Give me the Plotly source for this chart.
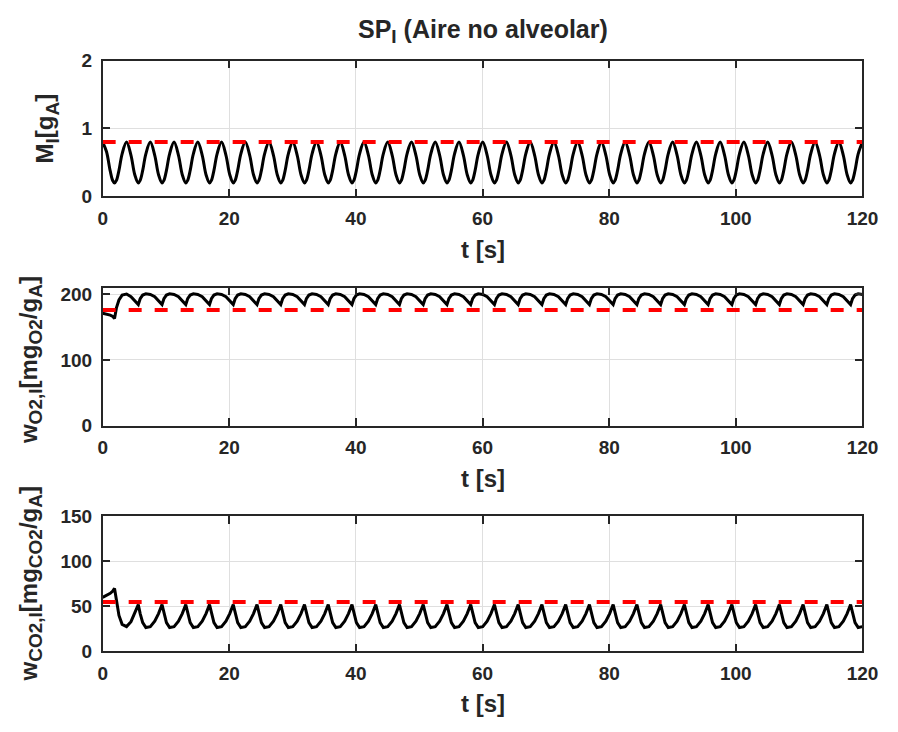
import plotly.graph_objects as go
from plotly.subplots import make_subplots

# ---- sample times [s] (one line per breath, starting at the end-of-expiration cusp)
t = [
    0.0, 0.6, 1.2, 1.6,
    1.875, 2.175, 2.575, 3.075, 3.775, 4.475, 5.075,
    5.625, 5.925, 6.325, 6.825, 7.525, 8.225, 8.825,
    9.375, 9.675, 10.075, 10.575, 11.275, 11.975, 12.575,
    13.125, 13.425, 13.825, 14.325, 15.025, 15.725, 16.325,
    16.875, 17.175, 17.575, 18.075, 18.775, 19.475, 20.075,
    20.625, 20.925, 21.325, 21.825, 22.525, 23.225, 23.825,
    24.375, 24.675, 25.075, 25.575, 26.275, 26.975, 27.575,
    28.125, 28.425, 28.825, 29.325, 30.025, 30.725, 31.325,
    31.875, 32.175, 32.575, 33.075, 33.775, 34.475, 35.075,
    35.625, 35.925, 36.325, 36.825, 37.525, 38.225, 38.825,
    39.375, 39.675, 40.075, 40.575, 41.275, 41.975, 42.575,
    43.125, 43.425, 43.825, 44.325, 45.025, 45.725, 46.325,
    46.875, 47.175, 47.575, 48.075, 48.775, 49.475, 50.075,
    50.625, 50.925, 51.325, 51.825, 52.525, 53.225, 53.825,
    54.375, 54.675, 55.075, 55.575, 56.275, 56.975, 57.575,
    58.125, 58.425, 58.825, 59.325, 60.025, 60.725, 61.325,
    61.875, 62.175, 62.575, 63.075, 63.775, 64.475, 65.075,
    65.625, 65.925, 66.325, 66.825, 67.525, 68.225, 68.825,
    69.375, 69.675, 70.075, 70.575, 71.275, 71.975, 72.575,
    73.125, 73.425, 73.825, 74.325, 75.025, 75.725, 76.325,
    76.875, 77.175, 77.575, 78.075, 78.775, 79.475, 80.075,
    80.625, 80.925, 81.325, 81.825, 82.525, 83.225, 83.825,
    84.375, 84.675, 85.075, 85.575, 86.275, 86.975, 87.575,
    88.125, 88.425, 88.825, 89.325, 90.025, 90.725, 91.325,
    91.875, 92.175, 92.575, 93.075, 93.775, 94.475, 95.075,
    95.625, 95.925, 96.325, 96.825, 97.525, 98.225, 98.825,
    99.375, 99.675, 100.075, 100.575, 101.275, 101.975, 102.575,
    103.125, 103.425, 103.825, 104.325, 105.025, 105.725, 106.325,
    106.875, 107.175, 107.575, 108.075, 108.775, 109.475, 110.075,
    110.625, 110.925, 111.325, 111.825, 112.525, 113.225, 113.825,
    114.375, 114.675, 115.075, 115.575, 116.275, 116.975, 117.575,
    118.125, 118.425, 118.825, 119.325, 120.0,
]

# ---- M_I [g_A]
M_I = [
    0.8, 0.661, 0.372, 0.232,
    0.2, 0.237, 0.384, 0.628, 0.8, 0.605, 0.32,
    0.2, 0.237, 0.384, 0.628, 0.8, 0.605, 0.32,
    0.2, 0.237, 0.384, 0.628, 0.8, 0.605, 0.32,
    0.2, 0.237, 0.384, 0.628, 0.8, 0.605, 0.32,
    0.2, 0.237, 0.384, 0.628, 0.8, 0.605, 0.32,
    0.2, 0.237, 0.384, 0.628, 0.8, 0.605, 0.32,
    0.2, 0.237, 0.384, 0.628, 0.8, 0.605, 0.32,
    0.2, 0.237, 0.384, 0.628, 0.8, 0.605, 0.32,
    0.2, 0.237, 0.384, 0.628, 0.8, 0.605, 0.32,
    0.2, 0.237, 0.384, 0.628, 0.8, 0.605, 0.32,
    0.2, 0.237, 0.384, 0.628, 0.8, 0.605, 0.32,
    0.2, 0.237, 0.384, 0.628, 0.8, 0.605, 0.32,
    0.2, 0.237, 0.384, 0.628, 0.8, 0.605, 0.32,
    0.2, 0.237, 0.384, 0.628, 0.8, 0.605, 0.32,
    0.2, 0.237, 0.384, 0.628, 0.8, 0.605, 0.32,
    0.2, 0.237, 0.384, 0.628, 0.8, 0.605, 0.32,
    0.2, 0.237, 0.384, 0.628, 0.8, 0.605, 0.32,
    0.2, 0.237, 0.384, 0.628, 0.8, 0.605, 0.32,
    0.2, 0.237, 0.384, 0.628, 0.8, 0.605, 0.32,
    0.2, 0.237, 0.384, 0.628, 0.8, 0.605, 0.32,
    0.2, 0.237, 0.384, 0.628, 0.8, 0.605, 0.32,
    0.2, 0.237, 0.384, 0.628, 0.8, 0.605, 0.32,
    0.2, 0.237, 0.384, 0.628, 0.8, 0.605, 0.32,
    0.2, 0.237, 0.384, 0.628, 0.8, 0.605, 0.32,
    0.2, 0.237, 0.384, 0.628, 0.8, 0.605, 0.32,
    0.2, 0.237, 0.384, 0.628, 0.8, 0.605, 0.32,
    0.2, 0.237, 0.384, 0.628, 0.8, 0.605, 0.32,
    0.2, 0.237, 0.384, 0.628, 0.8, 0.605, 0.32,
    0.2, 0.237, 0.384, 0.628, 0.8, 0.605, 0.32,
    0.2, 0.237, 0.384, 0.628, 0.8, 0.605, 0.32,
    0.2, 0.237, 0.384, 0.628, 0.8, 0.605, 0.32,
    0.2, 0.237, 0.384, 0.628, 0.8,
]

# ---- w_O2,I [mg_O2/g_A]
w_O2 = [
    171, 170, 168, 166,
    163, 179, 191, 198.5, 200, 196, 190.5,
    184, 193, 198.5, 200.5, 199.5, 196, 190.5,
    184, 193, 198.5, 200.5, 199.5, 196, 190.5,
    184, 193, 198.5, 200.5, 199.5, 196, 190.5,
    184, 193, 198.5, 200.5, 199.5, 196, 190.5,
    184, 193, 198.5, 200.5, 199.5, 196, 190.5,
    184, 193, 198.5, 200.5, 199.5, 196, 190.5,
    184, 193, 198.5, 200.5, 199.5, 196, 190.5,
    184, 193, 198.5, 200.5, 199.5, 196, 190.5,
    184, 193, 198.5, 200.5, 199.5, 196, 190.5,
    184, 193, 198.5, 200.5, 199.5, 196, 190.5,
    184, 193, 198.5, 200.5, 199.5, 196, 190.5,
    184, 193, 198.5, 200.5, 199.5, 196, 190.5,
    184, 193, 198.5, 200.5, 199.5, 196, 190.5,
    184, 193, 198.5, 200.5, 199.5, 196, 190.5,
    184, 193, 198.5, 200.5, 199.5, 196, 190.5,
    184, 193, 198.5, 200.5, 199.5, 196, 190.5,
    184, 193, 198.5, 200.5, 199.5, 196, 190.5,
    184, 193, 198.5, 200.5, 199.5, 196, 190.5,
    184, 193, 198.5, 200.5, 199.5, 196, 190.5,
    184, 193, 198.5, 200.5, 199.5, 196, 190.5,
    184, 193, 198.5, 200.5, 199.5, 196, 190.5,
    184, 193, 198.5, 200.5, 199.5, 196, 190.5,
    184, 193, 198.5, 200.5, 199.5, 196, 190.5,
    184, 193, 198.5, 200.5, 199.5, 196, 190.5,
    184, 193, 198.5, 200.5, 199.5, 196, 190.5,
    184, 193, 198.5, 200.5, 199.5, 196, 190.5,
    184, 193, 198.5, 200.5, 199.5, 196, 190.5,
    184, 193, 198.5, 200.5, 199.5, 196, 190.5,
    184, 193, 198.5, 200.5, 199.5, 196, 190.5,
    184, 193, 198.5, 200.5, 199.5, 196, 190.5,
    184, 193, 198.5, 200.5, 199.5, 196, 190.5,
    184, 193, 198.5, 200.5, 200,
]

# ---- w_CO2,I [mg_CO2/g_A]
w_CO2 = [
    60, 62, 64.5, 67,
    70, 57, 40, 30, 27.5, 33, 42,
    52, 42, 32, 26.5, 27.5, 33.5, 42,
    52, 42, 32, 26.5, 27.5, 33.5, 42,
    52, 42, 32, 26.5, 27.5, 33.5, 42,
    52, 42, 32, 26.5, 27.5, 33.5, 42,
    52, 42, 32, 26.5, 27.5, 33.5, 42,
    52, 42, 32, 26.5, 27.5, 33.5, 42,
    52, 42, 32, 26.5, 27.5, 33.5, 42,
    52, 42, 32, 26.5, 27.5, 33.5, 42,
    52, 42, 32, 26.5, 27.5, 33.5, 42,
    52, 42, 32, 26.5, 27.5, 33.5, 42,
    52, 42, 32, 26.5, 27.5, 33.5, 42,
    52, 42, 32, 26.5, 27.5, 33.5, 42,
    52, 42, 32, 26.5, 27.5, 33.5, 42,
    52, 42, 32, 26.5, 27.5, 33.5, 42,
    52, 42, 32, 26.5, 27.5, 33.5, 42,
    52, 42, 32, 26.5, 27.5, 33.5, 42,
    52, 42, 32, 26.5, 27.5, 33.5, 42,
    52, 42, 32, 26.5, 27.5, 33.5, 42,
    52, 42, 32, 26.5, 27.5, 33.5, 42,
    52, 42, 32, 26.5, 27.5, 33.5, 42,
    52, 42, 32, 26.5, 27.5, 33.5, 42,
    52, 42, 32, 26.5, 27.5, 33.5, 42,
    52, 42, 32, 26.5, 27.5, 33.5, 42,
    52, 42, 32, 26.5, 27.5, 33.5, 42,
    52, 42, 32, 26.5, 27.5, 33.5, 42,
    52, 42, 32, 26.5, 27.5, 33.5, 42,
    52, 42, 32, 26.5, 27.5, 33.5, 42,
    52, 42, 32, 26.5, 27.5, 33.5, 42,
    52, 42, 32, 26.5, 27.5, 33.5, 42,
    52, 42, 32, 26.5, 27.5, 33.5, 42,
    52, 42, 32, 26.5, 27.5, 33.5, 42,
    52, 42, 32, 26.5, 27.5,
]

# ---- set-points (red dashed references)
t_ref = [0, 120]
M_ref = [0.8, 0.8]
O2_ref = [176, 176]
CO2_ref = [55, 55]

# ---- axis settings
x_range = [0, 120]
x_ticks = [0, 20, 40, 60, 80, 100, 120]
y_ranges = [[0, 2], [0, 210], [0, 150]]
y_ticks = [[0, 1, 2], [0, 100, 200], [0, 50, 100, 150]]

W, H = 898, 732
FONT = "Liberation Sans, Arial, Helvetica, sans-serif"
AX = "#262626"
GRID = "#dfdfdf"

fig = make_subplots(rows=3, cols=1)

series = [M_I, w_O2, w_CO2]
refs = [M_ref, O2_ref, CO2_ref]
for i in range(3):
    fig.add_trace(go.Scatter(x=t, y=series[i], mode="lines",
                             line=dict(color="black", width=3,
                                       shape="spline" if i == 0 else "linear"),
                             showlegend=False, hoverinfo="skip"), row=i + 1, col=1)
    fig.add_trace(go.Scatter(x=t_ref, y=refs[i], mode="lines",
                             line=dict(color="#ff0000", width=4, dash="13px,13px"),
                             showlegend=False, hoverinfo="skip"), row=i + 1, col=1)


def px(x, y):
    return x / W, 1 - y / H


x_dom = [px(100, 0)[0], px(878, 0)[0]]
y_doms = [[px(0, 192)[1], px(0, 52)[1]],
          [px(0, 428)[1], px(0, 285.7)[1]],
          [px(0, 660.3)[1], px(0, 521.4)[1]]]

axis_common = dict(showline=True, linecolor=AX, linewidth=1.5, mirror="ticks",
                   ticks="inside", ticklen=8, tickwidth=1.5, tickcolor=AX,
                   showgrid=True, gridcolor=GRID, gridwidth=1, zeroline=False,
                   tickfont=dict(family=FONT, size=19, color=AX, weight="bold"))

for i in range(3):
    xa = "xaxis" if i == 0 else f"xaxis{i + 1}"
    ya = "yaxis" if i == 0 else f"yaxis{i + 1}"
    fig.layout[xa].update(domain=x_dom, range=x_range, tickmode="array",
                          tickvals=x_ticks, ticklabelstandoff=4, **axis_common)
    fig.layout[ya].update(domain=y_doms[i], range=y_ranges[i], tickmode="array",
                          tickvals=y_ticks[i], ticklabelstandoff=5, **axis_common)

annots = []
SUB = "<sub><span style='font-size:19px'>%s</span></sub>"

tx, ty = px(489, 22)
annots.append(dict(text="<b>SP" + SUB % "I" + " (Aire no alveolar)</b>", x=tx, y=ty,
                   font=dict(size=25)))
for yy in [247, 482, 714]:
    ax_, ay_ = px(489, yy)
    annots.append(dict(text="<b>t [s]</b>", x=ax_, y=ay_, font=dict(size=24)))

ylabels = [("<b>M" + SUB % "I" + "[g" + SUB % "A" + "]</b>", 43, 122),
           ("<b>w" + SUB % "O2,I" + "[mg" + SUB % "O2" + "/g" + SUB % "A" + "]</b>", 26, 360),
           ("<b>w" + SUB % "CO2,I" + "[mg" + SUB % "CO2" + "/g" + SUB % "A" + "]</b>", 26, 591)]
for txt, xx, yy in ylabels:
    ax_, ay_ = px(xx, yy)
    annots.append(dict(text=txt, x=ax_, y=ay_, textangle=-90, font=dict(size=24)))

for a in annots:
    a.update(xref="paper", yref="paper", showarrow=False, xanchor="center",
             yanchor="middle")
    a["font"].update(family=FONT, color=AX)

fig.update_layout(width=W, height=H, margin=dict(l=0, r=0, t=0, b=0),
                  paper_bgcolor="white", plot_bgcolor="white",
                  annotations=annots, showlegend=False)

fig.write_html("out.html")
